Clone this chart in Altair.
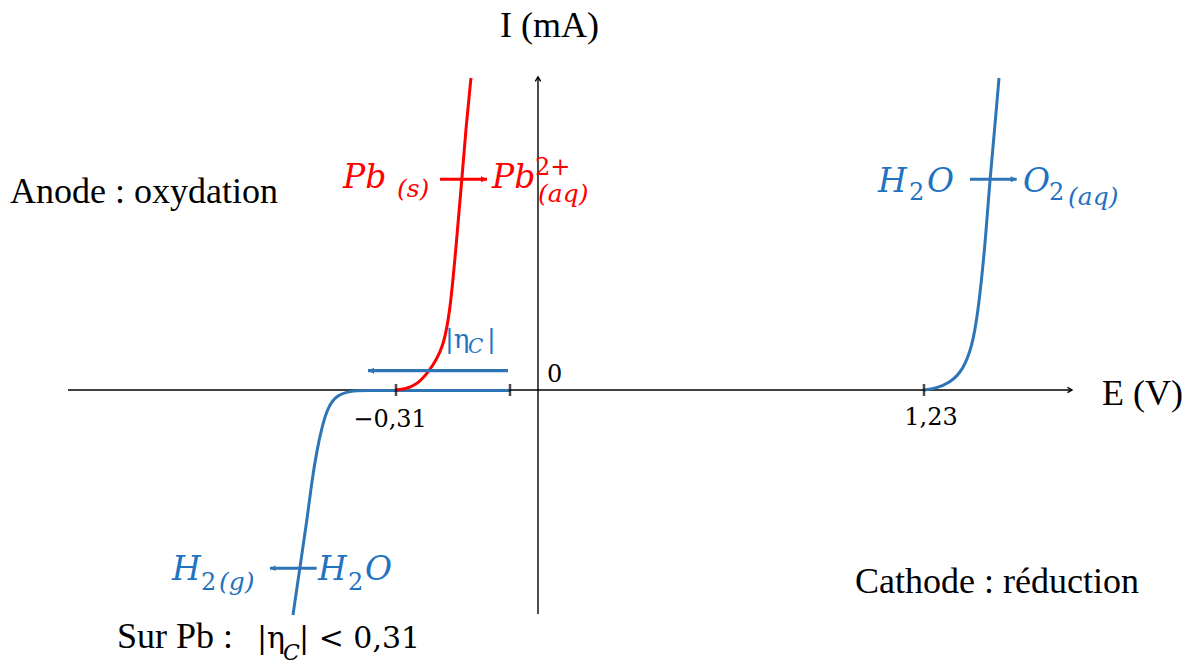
import altair as alt
import pandas as pd

# ---- current-potential branches: E (V) vs I (mA, schematic units)
pb_E = [-0.31, -0.2904, -0.2642, -0.2358, -0.2227, -0.2074, -0.1921, -0.1790, -0.1659, -0.1572, -0.1463]
pb_I = [0.0, 0.01, 0.048, 0.192, 0.288, 0.413, 0.740, 1.375, 2.038, 2.529, 3.0]

o2_E = [1.23, 1.2651, 1.3129, 1.3543, 1.383, 1.4021, 1.4244, 1.4403, 1.4563, 1.469]
o2_I = [0.0, 0.014, 0.067, 0.192, 0.413, 0.740, 1.375, 2.038, 2.548, 3.0]

h2_E = [-0.0611, -0.1921, -0.3013, -0.3777, -0.4104, -0.4388, -0.4585, -0.4716,
        -0.4825, -0.4934, -0.5043, -0.5196, -0.5349]
h2_I = [-0.005, -0.005, -0.005, -0.005, -0.01, -0.048, -0.161, -0.353,
        -0.577, -0.865, -1.25, -1.702, -2.163]

# ---- axes extent
E_axis = [-1.026, 1.7016]
I_axis = [-2.154, 3.01]

# ---- tick marks on the E axis and their labels
tick_E = [-0.31, -0.0611, 1.23]
tick_label_E = [-0.323, 1.2523]
tick_label_I = [-0.356, -0.337]
tick_label_text = ["\u22120,31", "1,23"]

# ---- reaction arrows: start, tip, current level
arrow_red = {"E1": -0.2139, "E2": -0.1113, "I": 2.026}
arrow_o2 = {"E1": 1.3766, "E2": 1.5254, "I": 2.026}
arrow_h2 = {"E1": -0.4831, "E2": -0.5851, "I": -1.714}
arrow_eta = {"E1": -0.0655, "E2": -0.3711, "I": 0.186}

RED = "#FF0000"
BLUE = "#2E75B6"
BLUE_TXT = "#1F73C0"
BLACK = "#000000"

# piecewise-linear potential axis (schematic, not to scale)
xs = alt.Scale(domain=[-0.31, 0, 1.23], range=[396, 538, 924], nice=False, zero=False)
ys = alt.Scale(domain=[0, 3], range=[390, 78], nice=False, zero=False)

X = lambda f="E": alt.X(f"{f}:Q", scale=xs, axis=None)
Y = lambda f="I": alt.Y(f"{f}:Q", scale=ys, axis=None)


def curve(E, I, color):
    df = pd.DataFrame({"E": E, "I": I})
    return alt.Chart(df).mark_line(color=color, strokeWidth=3, interpolate="basis").encode(
        x=X(), y=Y())


def arrow(a, color, width, head_len, right):
    df = pd.DataFrame([a])
    shaft = alt.Chart(df).mark_rule(color=color, strokeWidth=width).encode(
        x=X("E1"), x2="E2:Q", y=Y())
    path = "M 0 0 L -1 -0.5 L -1 0.5 Z" if right else "M 0 0 L 1 -0.5 L 1 0.5 Z"
    head = alt.Chart(df).mark_point(shape=path, filled=True, color=color, opacity=1,
                                    size=head_len ** 2, strokeWidth=0).encode(x=X("E2"), y=Y())
    return shaft + head


def texts(labels, Es, Is, color, size, font, style="normal", align="left"):
    df = pd.DataFrame({"label": labels, "E": Es, "I": Is})
    return alt.Chart(df).mark_text(color=color, fontSize=size, font=font, fontStyle=style,
                                   align=align, baseline="alphabetic").encode(
        x=X(), y=Y(), text="label:N")


SERIF = "Liberation Serif"
MATH = "DejaVu Serif"

# axes
x_axis = alt.Chart(pd.DataFrame({"E1": [E_axis[0]], "E2": [E_axis[1]], "I": [0]})).mark_rule(
    color=BLACK, strokeWidth=1.4).encode(x=X("E1"), x2="E2:Q", y=Y())
y_axis = alt.Chart(pd.DataFrame({"E": [0], "I1": [I_axis[0]], "I2": [I_axis[1]]})).mark_rule(
    color=BLACK, strokeWidth=1.4).encode(x=X(), y=Y("I1"), y2="I2:Q")
x_head = alt.Chart(pd.DataFrame({"E": [E_axis[1]], "I": [0]})).mark_point(
    shape="M -1 -0.6 L 0 0 L -1 0.6", filled=False, color=BLACK, opacity=1, strokeWidth=1.4,
    size=81).encode(x=X(), y=Y())
y_head = alt.Chart(pd.DataFrame({"E": [0], "I": [I_axis[1]]})).mark_point(
    shape="M -0.6 1 L 0 0 L 0.6 1", filled=False, color=BLACK, opacity=1, strokeWidth=1.4,
    size=81).encode(x=X(), y=Y())

ticks = alt.Chart(pd.DataFrame({"E": tick_E, "I": [0] * len(tick_E)})).mark_tick(
    orient="vertical", color=BLACK, size=12, thickness=2.5).encode(x=X(), y=Y())

layers = [
    x_axis, y_axis, x_head, y_head,
    curve(h2_E, h2_I, BLUE),
    curve(pb_E, pb_I, RED),
    curve(o2_E, o2_I, BLUE),
    ticks,
    arrow(arrow_red, RED, 3, 12, True),
    arrow(arrow_o2, BLUE, 3, 12, True),
    arrow(arrow_h2, BLUE, 3, 11, False),
    arrow(arrow_eta, BLUE, 3.2, 12, False),
    # axis titles and annotations
    texts(["I (mA)", "E (V)", "Anode : oxydation", "Cathode : r\u00e9duction", "Sur Pb :"],
          [-0.083, 1.797, -1.1527, 1.0101, -0.9191],
          [3.394, -0.144, 1.798, -1.952, -2.481], BLACK, 36, SERIF),
    texts(["|\u03b7", "| < 0,31"], [-0.6135, -0.5218], [-2.481, -2.481], BLACK, 30, MATH),
    texts(["C"], [-0.5567], [-2.596], BLACK, 22, MATH, style="italic"),
    texts(["0"], [0.0287], [0.077], BLACK, 24, MATH),
    texts(tick_label_text, tick_label_E, tick_label_I, BLACK, 24, MATH, align="center"),
    # Pb -> Pb2+ labels
    texts(["Pb", "Pb"], [-0.4257, -0.1004], [1.942, 1.942], RED, 33, MATH, style="italic"),
    texts(["(s)", "(aq)"], [-0.3078, 0.0], [1.856, 1.808], RED, 25, MATH, style="italic"),
    texts(["2+"], [-0.0065], [2.067], RED, 24, MATH),
    # water oxidation / reduction labels
    texts(["H", "O", "O", "H", "H", "O"],
          [1.0834, 1.2396, 1.5455, -0.799, -0.4803, -0.3777],
          [1.904, 1.904, 1.904, -1.827, -1.827, -1.827], BLUE_TXT, 33, MATH, style="italic"),
    texts(["2", "2", "2", "2"], [1.1822, 1.6283, -0.7357, -0.4148],
          [1.827, 1.827, -1.923, -1.923], BLUE_TXT, 24, MATH),
    texts(["(aq)", "(g)"], [1.6889, -0.6964], [1.779, -1.923], BLUE_TXT, 25, MATH, style="italic"),
    # overpotential label
    texts(["|\u03b7", "|"], [-0.203, -0.1113], [0.404, 0.404], BLUE_TXT, 26, MATH),
    texts(["C"], [-0.1528], [0.356], BLUE_TXT, 20, MATH, style="italic"),
]

chart = alt.layer(*layers).properties(
    width=1198, height=668,
    autosize=alt.AutoSizeParams(type="none"),
    padding=0,
    background="white",
).configure_view(stroke=None)

chart.save("out.html", embed_options={"renderer": "svg", "actions": False})
